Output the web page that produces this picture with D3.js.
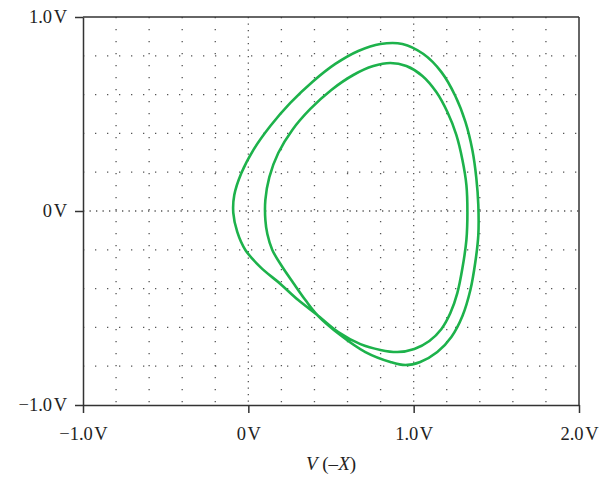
<!DOCTYPE html>
<html>
<head>
<meta charset="utf-8">
<script src="https://cdn.jsdelivr.net/npm/d3@7"></script>
<style>
  html, body { margin: 0; padding: 0; background: #fff; }
  svg { display: block; }
  text { font-family: "Liberation Serif", "DejaVu Serif", serif; fill: #222; }
</style>
</head>
<body>
<svg id="chart" width="611" height="479"></svg>
<script>
// Axis ranges and tick labels
const xTicks = [-1, 0, 1, 2];
const xTickLabels = ["\u22121.0\u200aV", "0\u200aV", "1.0\u200aV", "2.0\u200aV"];
const yTicks = [-1, 0, 1];
const yTickLabels = ["\u22121.0\u200aV", "0\u200aV", "1.0\u200aV"];
const gridStep = 0.2;
const xTitle = ["V", " (–", "X", ")"];

// Phase trajectory V(−X) vs V(Y): one closed orbit winding twice
const orbitX = [
  0.417, 0.556, 0.708, 0.859, 0.950, 1.040, 1.143, 1.228, 1.295, 1.343,
  1.373, 1.391, 1.391, 1.379, 1.355, 1.313, 1.252, 1.168, 1.059, 0.932,
  0.799, 0.665, 0.526, 0.387, 0.254, 0.133, 0.030, -0.042, -0.085, -0.091,
  -0.067, -0.018, 0.073, 0.194, 0.302,
  0.417, 0.544, 0.678, 0.799, 0.901, 1.004, 1.095, 1.168, 1.222, 1.264,
  1.295, 1.319, 1.325, 1.319, 1.295, 1.258, 1.204, 1.137, 1.053, 0.956,
  0.859, 0.756, 0.635, 0.502, 0.375, 0.266, 0.181, 0.127, 0.103, 0.103,
  0.115, 0.145, 0.206, 0.272, 0.345
];
const orbitY = [
  -0.536, -0.639, -0.727, -0.778, -0.794, -0.778, -0.727, -0.649, -0.541, -0.407,
  -0.263, -0.124, 0.031, 0.170, 0.314, 0.459, 0.593, 0.716, 0.809, 0.861,
  0.861, 0.825, 0.758, 0.665, 0.557, 0.438, 0.314, 0.196, 0.082, -0.010,
  -0.108, -0.201, -0.289, -0.376, -0.459,
  -0.536, -0.624, -0.686, -0.716, -0.727, -0.711, -0.670, -0.608, -0.526, -0.423,
  -0.294, -0.149, -0.005, 0.134, 0.263, 0.392, 0.510, 0.613, 0.696, 0.747,
  0.763, 0.747, 0.701, 0.624, 0.526, 0.418, 0.299, 0.175, 0.057, -0.046,
  -0.119, -0.201, -0.289, -0.371, -0.459
];

const svg = d3.select("#chart");
const margin = { left: 83, right: 32, top: 17, bottom: 74 };
const W = 611, H = 479;

const x = d3.scaleLinear().domain([-1, 2]).range([margin.left, W - margin.right]);
const y = d3.scaleLinear().domain([-1, 1]).range([H - margin.bottom, margin.top]);

// Dotted grid: minor lines every 0.2 V, denser dots on the major lines
const gx = d3.range(-1 + gridStep, 2 - 1e-6, gridStep).map(v => +v.toFixed(2));
const gy = d3.range(-1 + gridStep, 1 - 1e-6, gridStep).map(v => +v.toFixed(2));
const isMajor = v => Math.abs(v - Math.round(v)) < 1e-6;

const grid = svg.append("g");
grid.selectAll("line.gx").data(gx).join("line")
  .attr("x1", d => x(d)).attr("x2", d => x(d))
  .attr("y1", y(1)).attr("y2", y(-1))
  .attr("stroke", "#555")
  .attr("stroke-width", 1.3)
  .attr("stroke-dasharray", d => isMajor(d) ? "1.3,5.2" : "1.3,10.7");
grid.selectAll("line.gy").data(gy).join("line")
  .attr("y1", d => y(d)).attr("y2", d => y(d))
  .attr("x1", x(-1)).attr("x2", x(2))
  .attr("stroke", "#555")
  .attr("stroke-width", 1.3)
  .attr("stroke-dasharray", d => isMajor(d) ? "1.3,5.2" : "1.3,10.7");

// Frame (top and right edges)
const frameColor = "#333";
svg.append("line").attr("x1", x(-1)).attr("x2", x(2)).attr("y1", y(1)).attr("y2", y(1))
  .attr("stroke", frameColor).attr("stroke-width", 1.5);
svg.append("line").attr("x1", x(2)).attr("x2", x(2)).attr("y1", y(1)).attr("y2", y(-1))
  .attr("stroke", frameColor).attr("stroke-width", 1.5);

// Axes
const xAxis = d3.axisBottom(x).tickValues(xTicks).tickSize(8).tickSizeOuter(0)
  .tickPadding(14).tickFormat((d, i) => xTickLabels[i]);
const yAxis = d3.axisLeft(y).tickValues(yTicks).tickSize(8).tickSizeOuter(0)
  .tickPadding(8).tickFormat((d, i) => yTickLabels[i]);

const gX = svg.append("g").attr("transform", `translate(0,${y(-1)})`).call(xAxis);
const gY = svg.append("g").attr("transform", `translate(${x(-1)},0)`).call(yAxis);
[gX, gY].forEach(g => {
  g.select(".domain").attr("stroke", frameColor).attr("stroke-width", 1.5);
  g.selectAll(".tick line").attr("stroke", frameColor).attr("stroke-width", 1.5);
  g.selectAll(".tick text").attr("font-size", 18.5).attr("fill", "#222")
    .attr("font-family", "Liberation Serif, serif");
});

// Axis title
const title = svg.append("text")
  .attr("x", 331).attr("y", 470)
  .attr("text-anchor", "middle").attr("font-size", 19);
xTitle.forEach((s, i) => {
  title.append("tspan").text(s).attr("font-style", (i === 0 || i === 2) ? "italic" : "normal");
});

// Trajectory
const pts = orbitX.map((v, i) => [v, orbitY[i]]);
const line = d3.line().x(d => x(d[0])).y(d => y(d[1])).curve(d3.curveCatmullRomClosed.alpha(0.5));
svg.append("path")
  .attr("d", line(pts))
  .attr("fill", "none")
  .attr("stroke", "#1db24b")
  .attr("stroke-width", 2.6)
  .attr("stroke-linejoin", "round");
</script>
</body>
</html>
